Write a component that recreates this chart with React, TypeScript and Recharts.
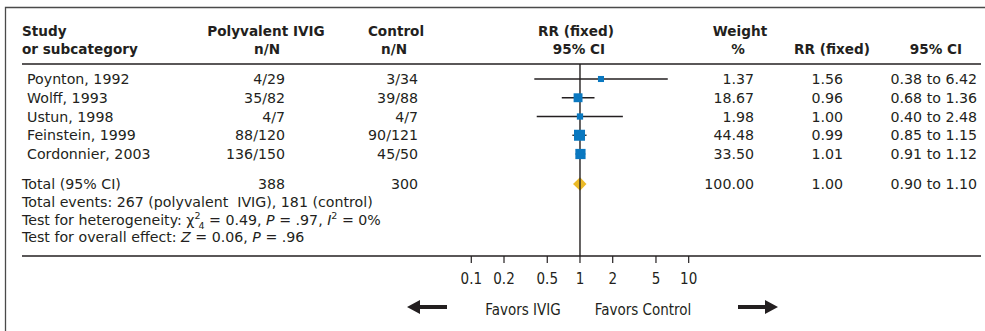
import React from "react";
import {
  ComposedChart,
  XAxis,
  YAxis,
  Scatter,
  ReferenceLine,
  ReferenceArea,
} from "recharts";

// study rows
const studies = ["Poynton, 1992", "Wolff, 1993", "Ustun, 1998", "Feinstein, 1999", "Cordonnier, 2003"];
const ivigCounts = ["4/29", "35/82", "4/7", "88/120", "136/150"];
const controlCounts = ["3/34", "39/88", "4/7", "90/121", "45/50"];
const weights = [1.37, 18.67, 1.98, 44.48, 33.5];
const rrValues = [1.56, 0.96, 1.0, 0.99, 1.01];
const ciLow = [0.38, 0.68, 0.4, 0.85, 0.91];
const ciHigh = [6.42, 1.36, 2.48, 1.15, 1.12];

// pooled result
const totalTotals = ["388", "300"];
const totalRR = 1.0;
const totalCI = [0.9, 1.1];

const xTicks = [0.1, 0.2, 0.5, 1, 2, 5, 10];

// row positions (in row units, top = 0.2)
const studyRows = [1, 2, 3, 4, 5];
const totalRow = 6.6;
const footerRows = [7.56, 8.52, 9.43];
const Y_DOMAIN = [0.2, 10.44];

const W = 985;
const H = 331;
const PLOT_L = 22;
const PLOT_R = 981;
const PLOT_T = 64;
const PLOT_B = 256;
const X_AXIS_H = 40;
const X_DOMAIN = [Math.pow(10, -5.133), Math.pow(10, 3.689)];

const INK = "#231f20";
const BLUE = "#0a78c0";
const GOLD = "#ebba27";
const BODY_FONT = "'DejaVu Sans', 'Liberation Sans', Arial, sans-serif";
const AXIS_FONT = "'Liberation Sans Narrow', 'DejaVu Sans Condensed', 'Arial Narrow', 'Liberation Sans', sans-serif";

const rowPx = (v: number) =>
  PLOT_T + ((v - Y_DOMAIN[0]) / (Y_DOMAIN[1] - Y_DOMAIN[0])) * (PLOT_B - PLOT_T);

const fmt = (v: number) => v.toFixed(2);

const points = studies.map((s, i) => ({ x: rrValues[i], y: studyRows[i], w: weights[i] }));

const Square = (p: any) => {
  const s = 5 + 0.9 * Math.sqrt(p.payload.w);
  return <rect x={p.cx - s / 2} y={p.cy - s / 2} width={s} height={s} fill={BLUE} />;
};

const Diamond = (p: any) => {
  const { x, y, width, height } = p;
  const apex = x + (width * Math.log(totalRR / totalCI[0])) / Math.log(totalCI[1] / totalCI[0]);
  const cy = y + height / 2;
  return (
    <polygon
      points={`${x - 2},${cy} ${apex},${y} ${x + width + 2},${cy} ${apex},${y + height}`}
      fill={GOLD}
    />
  );
};

function TableText() {
  const t = { fill: INK, fontFamily: BODY_FONT, fontSize: 14.2, dominantBaseline: "central" as const };
  const b = { ...t, fontSize: 13.6, fontWeight: 700 };
  const r1 = 31;
  const r2 = 49;
  return (
    <svg
      width={W}
      height={H}
      style={{ position: "absolute", left: 0, top: 0, pointerEvents: "none" }}
    >
      <path d={`M5.5 ${H} V7.5 H${W}`} fill="none" stroke="#4a4a4a" strokeWidth={1.3} />

      {/* header */}
      <text x={22} y={r1} {...b}>Study</text>
      <text x={22} y={r2} {...b}>or subcategory</text>
      <text x={266} y={r1} textAnchor="middle" {...b}>Polyvalent IVIG</text>
      <text x={267} y={r2} textAnchor="middle" {...b}>n/N</text>
      <text x={396} y={r1} textAnchor="middle" {...b}>Control</text>
      <text x={394} y={r2} textAnchor="middle" {...b}>n/N</text>
      <text x={576} y={r1} textAnchor="middle" {...b}>RR (fixed)</text>
      <text x={579} y={r2} textAnchor="middle" {...b}>95% CI</text>
      <text x={740} y={r1} textAnchor="middle" {...b}>Weight</text>
      <text x={738} y={r2} textAnchor="middle" {...b}>%</text>
      <text x={832} y={r2} textAnchor="middle" {...b}>RR (fixed)</text>
      <text x={936} y={r2} textAnchor="middle" {...b}>95% CI</text>

      {/* study rows */}
      {studies.map((s, i) => {
        const y = rowPx(studyRows[i]);
        return (
          <g key={s}>
            <text x={27} y={y} {...t}>{s}</text>
            <text x={285} y={y} textAnchor="end" {...t}>{ivigCounts[i]}</text>
            <text x={418} y={y} textAnchor="end" {...t}>{controlCounts[i]}</text>
            <text x={754} y={y} textAnchor="end" {...t}>{fmt(weights[i])}</text>
            <text x={843} y={y} textAnchor="end" {...t}>{fmt(rrValues[i])}</text>
            <text x={977} y={y} textAnchor="end" {...t}>
              {fmt(ciLow[i])} to {fmt(ciHigh[i])}
            </text>
          </g>
        );
      })}

      {/* total */}
      <text x={22} y={rowPx(totalRow)} {...t}>Total (95% CI)</text>
      <text x={285} y={rowPx(totalRow)} textAnchor="end" {...t}>{totalTotals[0]}</text>
      <text x={418} y={rowPx(totalRow)} textAnchor="end" {...t}>{totalTotals[1]}</text>
      <text x={754} y={rowPx(totalRow)} textAnchor="end" {...t}>
        {fmt(weights.reduce((a, c) => a + c, 0))}
      </text>
      <text x={843} y={rowPx(totalRow)} textAnchor="end" {...t}>{fmt(totalRR)}</text>
      <text x={977} y={rowPx(totalRow)} textAnchor="end" {...t}>
        {fmt(totalCI[0])} to {fmt(totalCI[1])}
      </text>

      {/* footer */}
      <text x={22} y={rowPx(footerRows[0])} {...t} xmlSpace="preserve">
        Total events: 267 (polyvalent  IVIG), 181 (control)
      </text>
      <text x={22} y={rowPx(footerRows[1])} {...t}>
        <tspan>Test for heterogeneity: χ</tspan>
        <tspan dy={-5} fontSize={9.5}>2</tspan>
        <tspan dx={-2} dy={10} fontSize={9.5}>4</tspan>
        <tspan dy={-5}> = 0.49, </tspan>
        <tspan fontStyle="italic">P</tspan>
        <tspan> = .97, </tspan>
        <tspan fontStyle="italic">I</tspan>
        <tspan dy={-5} fontSize={9.5}>2</tspan>
        <tspan dy={5}> = 0%</tspan>
      </text>
      <text x={22} y={rowPx(footerRows[2])} {...t}>
        <tspan>Test for overall effect: </tspan>
        <tspan fontStyle="italic">Z</tspan>
        <tspan> = 0.06, </tspan>
        <tspan fontStyle="italic">P</tspan>
        <tspan> = .96</tspan>
      </text>

      {/* favours */}
      <text x={523} y={310} textAnchor="middle" fill={INK} fontFamily={AXIS_FONT} fontSize={15} dominantBaseline="central">
        Favors IVIG
      </text>
      <text x={643} y={310} textAnchor="middle" fill={INK} fontFamily={AXIS_FONT} fontSize={15} dominantBaseline="central">
        Favors Control
      </text>
      <polygon points="407,307 420,300 420,305 447,305 447,309 420,309 420,314" fill={INK} />
      <polygon points="778,307 765,300 765,305 738,305 738,309 765,309 765,314" fill={INK} />
    </svg>
  );
}

export default function App() {
  return (
    <div style={{ position: "absolute", left: 0, top: 0, width: W, height: H, background: "#fff" }}>
      <ComposedChart
        width={W}
        height={H}
        margin={{ top: PLOT_T, left: PLOT_L, right: W - PLOT_R, bottom: H - PLOT_B - X_AXIS_H }}
      >
        <XAxis
          type="number"
          dataKey="x"
          scale="log"
          domain={X_DOMAIN}
          allowDataOverflow
          ticks={xTicks}
          interval={0}
          height={X_AXIS_H}
          axisLine={{ stroke: INK, strokeWidth: 1.6 }}
          tickLine={{ stroke: INK, strokeWidth: 1.2 }}
          tickSize={7}
          tickMargin={10}
          tick={{ fill: INK, fontSize: 15, fontFamily: AXIS_FONT }}
        />
        <YAxis type="number" dataKey="y" domain={Y_DOMAIN} reversed hide width={0} allowDataOverflow />
        <ReferenceLine y={Y_DOMAIN[0]} stroke={INK} strokeWidth={1.6} ifOverflow="visible" />
        <ReferenceLine x={1} stroke={INK} strokeWidth={1.4} ifOverflow="visible" />
        {studies.map((s, i) => (
          <ReferenceLine
            key={s}
            segment={[
              { x: ciLow[i], y: studyRows[i] },
              { x: ciHigh[i], y: studyRows[i] },
            ]}
            stroke={INK}
            strokeWidth={1.3}
          />
        ))}
        <ReferenceArea
          x1={totalCI[0]}
          x2={totalCI[1]}
          y1={totalRow - 0.36}
          y2={totalRow + 0.36}
          shape={Diamond}
        />
        <Scatter data={points} dataKey="y" shape={Square} isAnimationActive={false} />
      </ComposedChart>
      <TableText />
    </div>
  );
}
